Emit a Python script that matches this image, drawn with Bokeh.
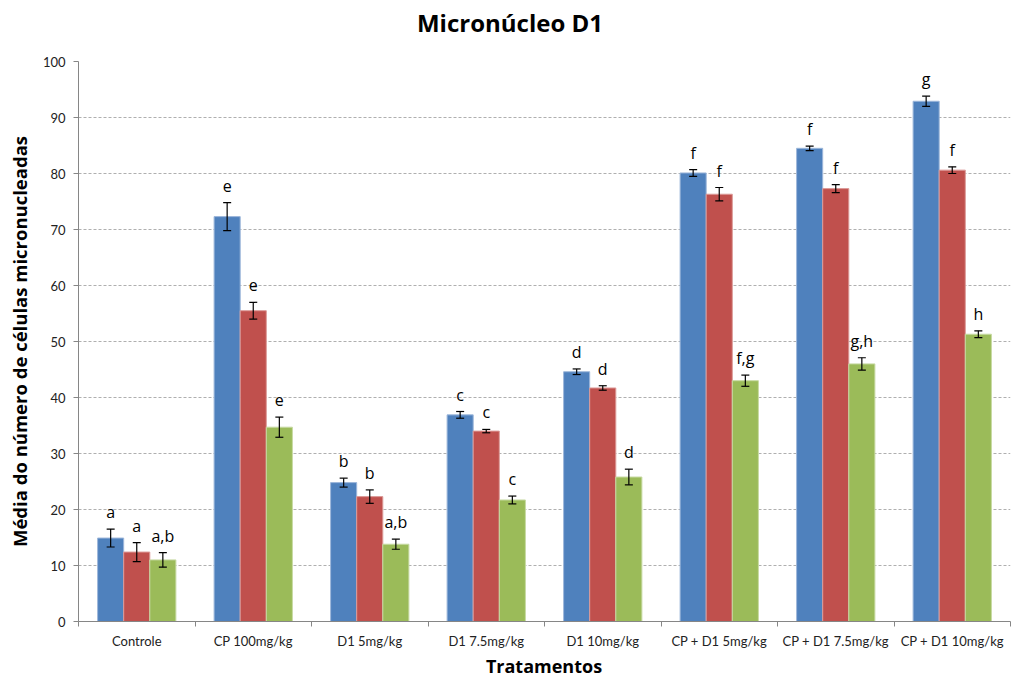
from bokeh.plotting import figure
from bokeh.models import ColumnDataSource, Whisker, FixedTicker, TeeHead, Range1d, Div
from bokeh.layouts import column
from bokeh.core.properties import value
from bokeh.embed import file_html
from bokeh.resources import INLINE

# Treatments on the x axis
categories = ["Controle", "CP 100mg/kg", "D1 5mg/kg", "D1 7.5mg/kg", "D1 10mg/kg",
              "CP + D1 5mg/kg", "CP + D1 7.5mg/kg", "CP + D1 10mg/kg"]

# Mean number of micronucleated cells, one list per series
serie_azul = [14.9, 72.3, 24.8, 36.9, 44.6, 80.1, 84.5, 92.9]
serie_vermelha = [12.4, 55.5, 22.3, 34.0, 41.7, 76.3, 77.3, 80.6]
serie_verde = [11.0, 34.7, 13.8, 21.7, 25.8, 43.0, 46.0, 51.3]

# Standard errors
erro_azul = [1.6, 2.5, 0.8, 0.6, 0.5, 0.6, 0.4, 0.9]
erro_vermelha = [1.7, 1.5, 1.2, 0.3, 0.4, 1.2, 0.7, 0.6]
erro_verde = [1.3, 1.8, 0.9, 0.7, 1.4, 1.0, 1.1, 0.6]

# Significance letters
letras_azul = ["a", "e", "b", "c", "d", "f", "f", "g"]
letras_vermelha = ["a", "e", "b", "c", "d", "f", "f", "f"]
letras_verde = ["a,b", "e", "a,b", "c", "d", "f,g", "g,h", "h"]

TICK_FONT = "Lato"
BOLD_FONT = "Open Sans"
BAR_W = 0.224
W = 1016
TITLE_H = 46
XLABEL_H = 20
PLOT_H = 676 - TITLE_H - XLABEL_H

titulo = Div(text="Micronúcleo D1", width=W, height=TITLE_H, margin=0,
             styles={"font-family": BOLD_FONT, "font-size": "24px", "font-weight": "bold",
                     "color": "#000000", "text-align": "center", "width": f"{W}px",
                     "line-height": f"{TITLE_H}px", "padding-left": "4px"})

rotulo_x = Div(text="Tratamentos", width=W, height=XLABEL_H, margin=0,
               styles={"font-family": BOLD_FONT, "font-size": "18px", "font-weight": "bold",
                       "color": "#000000", "text-align": "center", "width": f"{W}px",
                       "line-height": f"{XLABEL_H}px", "padding-left": "72px"})

p = figure(width=W, height=PLOT_H, output_backend="svg", toolbar_location=None,
           x_range=Range1d(0, len(categories)), y_range=Range1d(0, 100),
           min_border_left=78, min_border_right=6, min_border_top=15, min_border_bottom=35,
           margin=0)

p.outline_line_color = None
p.background_fill_color = "white"
p.border_fill_color = "white"

series = [
    (serie_azul, erro_azul, letras_azul, -BAR_W, "#4F81BD", "#9DB7DA"),
    (serie_vermelha, erro_vermelha, letras_vermelha, 0.0, "#C0504D", "#DC9A98"),
    (serie_verde, erro_verde, letras_verde, BAR_W, "#9BBB59", "#C7DAA3"),
]

for vals, errs, letras, off, color, edge in series:
    xs = [i + 0.5 + off for i in range(len(categories))]
    src = ColumnDataSource(dict(
        x=xs, top=vals,
        upper=[v + e for v, e in zip(vals, errs)],
        lower=[v - e for v, e in zip(vals, errs)],
        letra=letras,
    ))
    p.vbar(x="x", top="top", width=BAR_W, source=src, fill_color=color,
           line_color=edge, line_width=1)
    w = Whisker(base="x", upper="upper", lower="lower", source=src, level="overlay",
                line_color="black", line_width=1.2,
                upper_head=TeeHead(size=8, line_color="black", line_width=1.2),
                lower_head=TeeHead(size=8, line_color="black", line_width=1.2))
    p.add_layout(w)
    p.text(x="x", y="upper", text="letra", source=src, text_font=value("Open Sans"),
           text_font_size="16px", text_align="center", text_baseline="middle",
           y_offset=-17, text_color="#000000")

# Y axis
p.yaxis.ticker = FixedTicker(ticks=list(range(0, 101, 10)))
p.yaxis.axis_label = "Média do número de células micronucleadas"
p.yaxis.axis_label_text_font = BOLD_FONT
p.yaxis.axis_label_text_font_size = "18.5px"
p.yaxis.axis_label_text_font_style = "bold"
p.yaxis.axis_label_text_color = "#000000"
p.yaxis.axis_label_standoff = 8
p.yaxis.major_label_text_font = TICK_FONT
p.yaxis.major_label_text_font_size = "13px"
p.yaxis.major_label_text_color = "#222222"
p.yaxis.axis_line_color = "#868686"
p.yaxis.major_tick_line_color = "#868686"
p.yaxis.major_tick_out = 5
p.yaxis.major_tick_in = 0
p.yaxis.minor_tick_line_color = None
p.yaxis.major_label_standoff = 8

# X axis: labels at category centres, tick marks between categories
p.xaxis.ticker = FixedTicker(ticks=[i + 0.5 for i in range(len(categories))],
                             minor_ticks=list(range(len(categories) + 1)))
p.xaxis.major_label_overrides = {i + 0.5: c for i, c in enumerate(categories)}
p.xaxis.major_tick_line_color = None
p.xaxis.major_tick_out = 0
p.xaxis.minor_tick_line_color = "#868686"
p.xaxis.minor_tick_out = 5
p.xaxis.minor_tick_in = 0
p.xaxis.axis_line_color = "#868686"
p.xaxis.major_label_text_font = TICK_FONT
p.xaxis.major_label_text_font_size = "13px"
p.xaxis.major_label_text_color = "#222222"
p.xaxis.major_label_standoff = 6

# Grid
p.xgrid.grid_line_color = None
p.ygrid.grid_line_color = "#AFAFAF"
p.ygrid.grid_line_dash = "3 2"
p.ygrid.grid_line_width = 1

layout = column(titulo, p, rotulo_x, spacing=0, margin=0)
open("out.html", "w").write(file_html(layout, INLINE))
